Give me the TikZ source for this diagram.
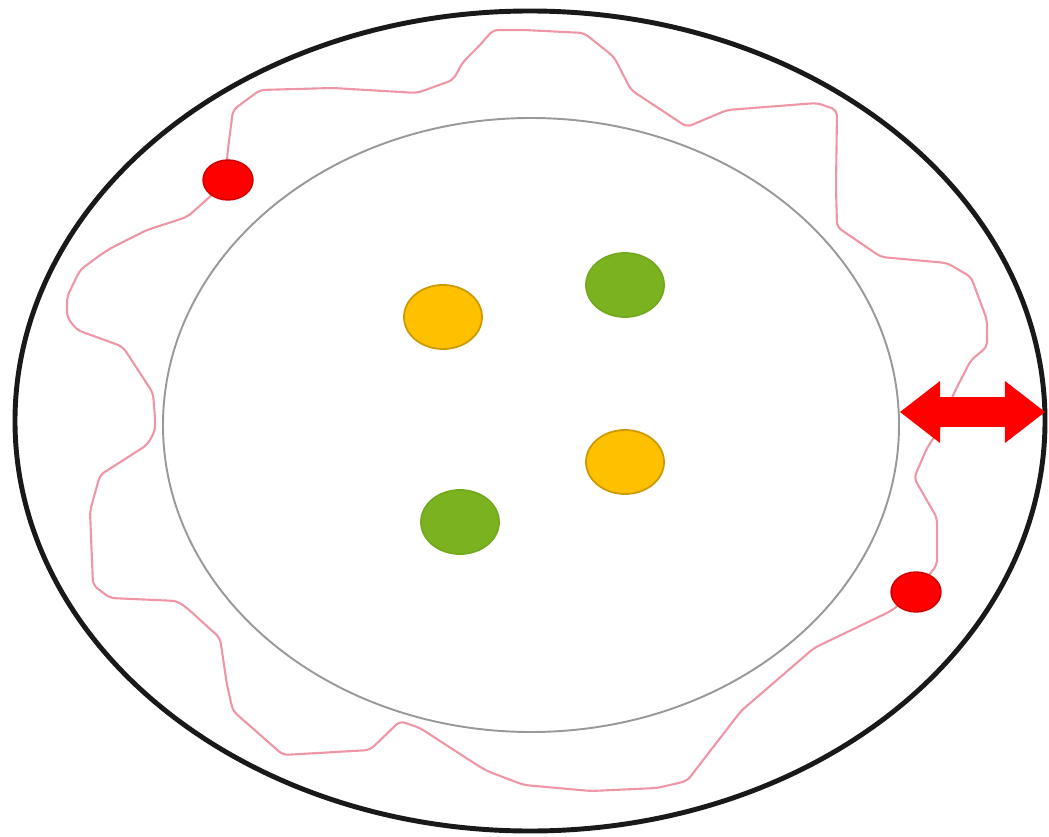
\documentclass[tikz,border=0pt]{standalone}
\usetikzlibrary{shapes.geometric, arrows.meta}

\definecolor{membranepink}{RGB}{238,150,165}
\definecolor{cellyellow}{RGB}{255,192,0}
\definecolor{cellgreen}{RGB}{122,178,32}
\definecolor{cellred}{RGB}{255,0,0}

\begin{document}
\begin{tikzpicture}[
    x=0.01cm, y=-0.01cm,
    wall/.style={draw=black!90, line width=1.4pt},
    core/.style={draw=gray!80, line width=0.55pt},
    membrane/.style={draw=membranepink, line width=0.6pt, rounded corners=1.5pt},
    blob/.style={ellipse, inner sep=0pt, minimum width=0.78cm, minimum height=0.64cm, line width=0.5pt},
    yellowblob/.style={blob, fill=cellyellow, draw=cellyellow!80!black},
    greenblob/.style={blob, fill=cellgreen, draw=cellgreen!95!black},
    pin/.style={ellipse, inner sep=0pt, minimum width=0.5cm, minimum height=0.4cm, fill=cellred, draw=cellred!80!black, line width=0.4pt},
    exchange/.style={draw=cellred, line width=0.3cm, {Triangle[length=0.4cm, width=0.62cm, line width=0pt]}-{Triangle[length=0.4cm, width=0.62cm, line width=0pt]}}
]
\useasboundingbox (0,0) rectangle (1049,837);

% 1. Outer and inner ellipses
\draw[wall] (530,421) ellipse [x radius=515, y radius=410];
\draw[core] (531,425) ellipse [x radius=368, y radius=307];

% 2. Wavy loop
\draw[membrane] (228,180) -- (227,157) -- (233,110) -- (260,90) -- (333,88) -- (417,93) -- (453,80)
    -- (463,62) -- (480,45) -- (493,30) -- (524,30) -- (584,33) -- (614,57) -- (631,90) -- (687,127)
    -- (727,110) -- (817,103) -- (837,110) -- (836,187) -- (837,227) -- (881,257) -- (947,263)
    -- (971,277) -- (987,320) -- (987,347) -- (971,360) -- (954,393) -- (940,428) -- (927,448)
    -- (914,478) -- (937,518) -- (937,565) -- (916,591) -- (891,611) -- (814,648) -- (741,711)
    -- (687,781) -- (657,788) -- (591,791) -- (524,785) -- (487,771) -- (477,765) -- (420,728)
    -- (400,721) -- (370,750) -- (283,755) -- (233,711) -- (227,685) -- (220,638) -- (187,608)
    -- (177,601) -- (110,598) -- (93,585) -- (90,511) -- (100,475) -- (147,445) -- (155,431)
    -- (155,418) -- (153,393) -- (123,347) -- (113,343) -- (77,330) -- (67,317) -- (67,297)
    -- (80,270) -- (103,253) -- (113,247) -- (147,230) -- (187,217) -- (203,203) -- cycle;

% 3. Dots on the loop
\node[pin] (pinA) at (228,180) {};
\node[pin] (pinB) at (916,592) {};

% 4. Dots inside
\node[yellowblob] (yellowA) at (443,317) {};
\node[greenblob] (greenA) at (625,285) {};
\node[yellowblob] (yellowB) at (625,462) {};
\node[greenblob] (greenB) at (460,522) {};

% 5. Double arrow across the gap
\coordinate (gapL) at (900,412);
\coordinate (gapR) at (1045,412);
\draw[exchange] (gapL) -- (gapR);

\end{tikzpicture}
\end{document}
